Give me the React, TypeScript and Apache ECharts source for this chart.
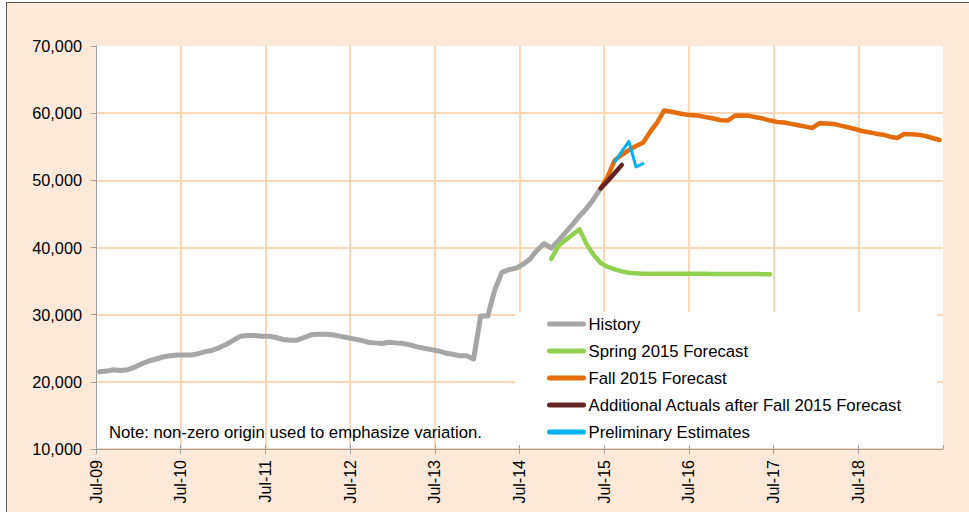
import React, { useEffect, useRef } from "react";
import * as echarts from "echarts";

// Month index 0 = Jul-09; each value is plotted in the middle of its month.
const historyStart = 0;
const historyValues = [
  21500, 21600, 21800, 21700, 21800, 22200, 22700, 23100, 23400, 23700, 23900, 24000,
  24000, 24000, 24200, 24500, 24700, 25100, 25600, 26200, 26800, 26900, 26900, 26800,
  26800, 26600, 26300, 26200, 26200, 26600, 27000, 27100, 27100, 27000, 26800, 26600,
  26400, 26200, 25900, 25800, 25700, 25900, 25800, 25700, 25500, 25200, 25000, 24800,
  24600, 24300, 24100, 23900, 23900, 23400, 29800, 29800, 33700, 36300, 36700, 36900,
  37500, 38300, 39600, 40600, 39900, 41000, 42200, 43400, 44700, 45800, 47200, 48800,
];

const springStart = 64;
const springValues = [
  38300, 40200, 41100, 41900, 42700, 40500, 38900, 37700, 37100, 36750, 36450, 36250,
  36150, 36100, 36100, 36100, 36100, 36100, 36100, 36100, 36100, 36100, 36100, 36050,
  36050, 36050, 36050, 36050, 36050, 36050, 36000, 36000,
];

const fallStart = 71;
const fallValues = [
  48800, 50600, 53000, 53800, 54500, 55100, 55600, 57200, 58600, 60400, 60200, 60000,
  59800, 59700, 59600, 59400, 59200, 58950, 58900, 59600, 59650, 59600, 59400, 59200,
  58900, 58700, 58600, 58400, 58200, 58000, 57800, 58500, 58450, 58400, 58150, 57900,
  57650, 57350, 57150, 56950, 56800, 56500, 56300, 56900, 56850, 56800, 56600, 56300,
  56000,
];

const actualsStart = 71;
const actualsValues = [48800, 49900, 51100, 52300];

const prelimStart = 73;
const prelimValues = [52800, 54300, 55800, 52000, 52500];

const seriesNames = [
  "History",
  "Spring 2015 Forecast",
  "Fall 2015 Forecast",
  "Additional Actuals after Fall 2015 Forecast",
  "Preliminary Estimates",
];
const seriesColors = ["#A6A6A6", "#92D050", "#E46C0A", "#632523", "#00B0F0"];
const seriesWidths = [5, 4.5, 4.5, 4.5, 3];

const yTicks = [10000, 20000, 30000, 40000, 50000, 60000, 70000];
const monthsShown = 120;
const firstYear = 9;
const noteText = "Note: non-zero origin used to emphasize variation.";

const toPairs = (start: number, values: number[]) =>
  values.map((v, k) => [start + k + 0.5, v]);

const FONT = "'Liberation Sans', Arial, sans-serif";
const GRID_COLOR = "#FBD7B6";

export default function App() {
  const ref = useRef<HTMLDivElement>(null);

  useEffect(() => {
    document.body.style.margin = "0";
    if (!ref.current) return;
    const chart = echarts.init(ref.current, undefined, { renderer: "svg" });

    const datasets = [
      toPairs(historyStart, historyValues),
      toPairs(springStart, springValues),
      toPairs(fallStart, fallValues),
      toPairs(actualsStart, actualsValues),
      toPairs(prelimStart, prelimValues),
    ];

    const monthLabel = (v: number) => {
      if (v % 12 !== 0) return "";
      const yy = firstYear + v / 12;
      return "Jul-" + String(yy).padStart(2, "0");
    };

    chart.setOption({
      animation: false,
      backgroundColor: "transparent",
      textStyle: { fontFamily: FONT },
      grid: {
        left: 96,
        right: 26,
        top: 46,
        bottom: 63,
        show: true,
        backgroundColor: "#FFFFFF",
        borderWidth: 0,
      },
      xAxis: [
        {
          type: "value",
          min: 0,
          max: monthsShown,
          interval: 12,
          position: "bottom",
          axisLine: { show: true, lineStyle: { color: "#A0A0A0", width: 1 } },
          axisTick: { show: true, length: 5, lineStyle: { color: "#A0A0A0" } },
          axisLabel: {
            rotate: 90,
            margin: 11,
            color: "#000",
            fontSize: 16,
            fontFamily: FONT,
            showMaxLabel: false,
            formatter: monthLabel,
          },
          splitLine: {
            show: true,
            showMinLine: false,
            showMaxLine: false,
            lineStyle: { color: GRID_COLOR, width: 2 },
          },
        },
        {
          type: "value",
          min: 0,
          max: monthsShown,
          interval: 12,
          position: "bottom",
          z: 3,
          axisLine: { show: false },
          axisTick: { show: true, inside: true, length: 4, lineStyle: { color: "#A0A0A0" } },
          axisLabel: { show: false },
          splitLine: { show: false },
        },
      ],
      yAxis: {
        type: "value",
        min: 10000,
        max: 70000,
        interval: 10000,
        axisLine: { show: true, lineStyle: { color: "#A0A0A0", width: 1 } },
        axisTick: { show: true, length: 5, lineStyle: { color: "#A0A0A0" } },
        axisLabel: {
          margin: 14,
          color: "#000",
          fontSize: 16.3,
          fontFamily: FONT,
          customValues: yTicks,
          formatter: (v: number) => v.toLocaleString("en-US"),
        },
        splitLine: {
          show: true,
          showMaxLine: false,
          lineStyle: { color: GRID_COLOR, width: 2 },
        },
      },
      legend: {
        orient: "vertical",
        left: 547,
        top: 314,
        itemWidth: 34,
        itemHeight: 20,
        itemGap: 7,
        padding: 0,
        data: seriesNames,
        itemStyle: { opacity: 0 },
        textStyle: {
          color: "#000",
          fontSize: 16.7,
          lineHeight: 20,
          fontFamily: FONT,
        },
        lineStyle: { width: 5, cap: "round" },
      },
      graphic: [
        {
          type: "rect",
          z: 1,
          silent: true,
          shape: { x: 515, y: 312, width: 422, height: 136 },
          style: { fill: "#FFFFFF" },
        },
        {
          type: "text",
          z: 5,
          x: 109,
          y: 432,
          style: {
            text: noteText,
            fill: "#000",
            font: `16.7px ${FONT}`,
            verticalAlign: "middle",
            align: "left",
          },
        },
      ],
      series: seriesNames.map((name, k) => ({
        name,
        type: "line",
        data: datasets[k],
        symbol: "none",
        showSymbol: false,
        z: 2 + k,
        lineStyle: {
          color: seriesColors[k],
          width: seriesWidths[k],
          cap: "round",
          join: "round",
        },
        itemStyle: { color: seriesColors[k] },
      })),
    });

    return () => chart.dispose();
  }, []);

  return (
    <div
      style={{
        position: "absolute",
        left: 0,
        top: 0,
        width: 969,
        height: 512,
        background: "#FFFFFF",
        overflow: "hidden",
      }}
    >
      <div
        style={{
          position: "absolute",
          left: 6,
          top: 2,
          width: 1000,
          height: 600,
          background: "#FDE9D9",
          borderLeft: "1.5px solid #595959",
          borderTop: "1.5px solid #595959",
        }}
      />
      <div
        ref={ref}
        style={{ position: "absolute", left: 0, top: 0, width: 969, height: 512 }}
      />
    </div>
  );
}
